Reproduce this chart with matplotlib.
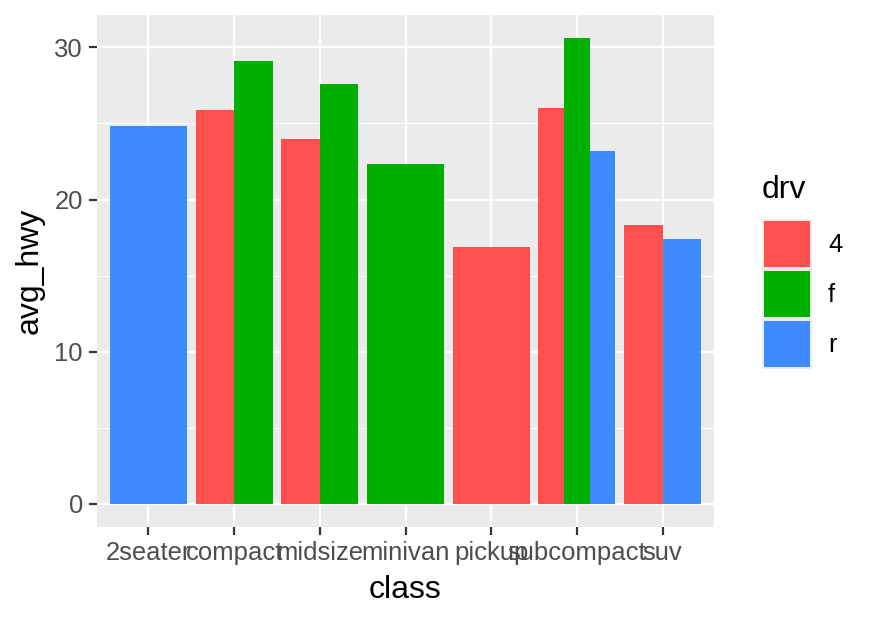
import matplotlib
matplotlib.use('Agg')
import matplotlib.pyplot as plt
from matplotlib.patches import Rectangle
import numpy as np

# ── DATA ─────────────────────────────────────────────────────────────────────
classes = ['2seater', 'compact', 'midsize', 'minivan', 'pickup', 'subcompact', 'suv']
drv_levels = ['4', 'f', 'r']
# (class, drv, avg_hwy)
bar_class = ['2seater', 'compact', 'compact', 'midsize', 'midsize', 'minivan',
             'pickup', 'subcompact', 'subcompact', 'subcompact', 'suv', 'suv']
bar_drv = ['r', '4', 'f', '4', 'f', 'f', '4', '4', 'f', 'r', '4', 'r']
avg_hwy = [24.8, 25.86, 29.1, 24.0, 27.6, 22.36, 16.88, 26.0, 30.6, 23.2, 18.3, 17.4]

# ── THEME ────────────────────────────────────────────────────────────────────
COLORS = {'4': '#FF5050', 'f': '#00B000', 'r': '#3D8BFF'}
PANEL = '#EBEBEB'
plt.rcParams['font.family'] = ['Liberation Sans', 'DejaVu Sans']
W, H = 874, 620
TICK_FS = 12.8
TITLE_FS = 16

DPI = 144
fig = plt.figure(figsize=(W / DPI, H / DPI), dpi=DPI)
ax = fig.add_axes([97 / W, 1 - 527 / H, (714 - 97) / W, (527 - 15) / H])
ax.set_facecolor(PANEL)

# dodge like ggplot: total width 0.9 shared among bars present in each class
width = 0.9
for ci, c in enumerate(classes):
    idx = [i for i, bc in enumerate(bar_class) if bc == c]
    n = len(idx)
    w = width / n
    for k, i in enumerate(idx):
        x = ci + 1 - width / 2 + w * (k + 0.5)
        ax.bar(x, avg_hwy[i], width=w, color=COLORS[bar_drv[i]], zorder=3, linewidth=0)

ymax = max(avg_hwy)
ax.set_xlim(0.4, 7.6)
ax.set_ylim(-0.05 * ymax, ymax * 1.05)

ax.set_xticks(range(1, len(classes) + 1))
ax.set_xticklabels(classes)
ax.set_yticks([0, 10, 20, 30])
ax.set_yticks([5, 15, 25], minor=True)

ax.grid(which='major', color='white', linewidth=1.1, zorder=0)
ax.grid(which='minor', axis='y', color='white', linewidth=0.55, zorder=0)
ax.set_axisbelow(True)
for s in ax.spines.values():
    s.set_visible(False)

ax.tick_params(which='major', length=4, width=1.1, color='#333333',
               labelcolor='#4D4D4D', labelsize=TICK_FS, pad=3)
ax.tick_params(which='minor', length=0)
ax.set_xlabel('class', fontsize=TITLE_FS, labelpad=5)
ax.set_ylabel('avg_hwy', fontsize=TITLE_FS, labelpad=5)

# legend drawn by hand, ggplot style
fig.text(762 / W, 1 - 190 / H, 'drv', fontsize=TITLE_FS, ha='left', va='center')
for i, d in enumerate(drv_levels):
    y0 = 219 + 50 * i
    fig.patches.append(Rectangle((762 / W, 1 - (y0 + 50) / H), 50 / W, 50 / H,
                                 transform=fig.transFigure, facecolor=PANEL,
                                 edgecolor='none'))
    fig.patches.append(Rectangle((764 / W, 1 - (y0 + 48) / H), 46 / W, 46 / H,
                                 transform=fig.transFigure, facecolor=COLORS[d],
                                 edgecolor='none'))
    fig.text(828 / W, 1 - (y0 + 26) / H, d, fontsize=TICK_FS, ha='left', va='center')

fig.savefig('out.png', dpi=DPI)
